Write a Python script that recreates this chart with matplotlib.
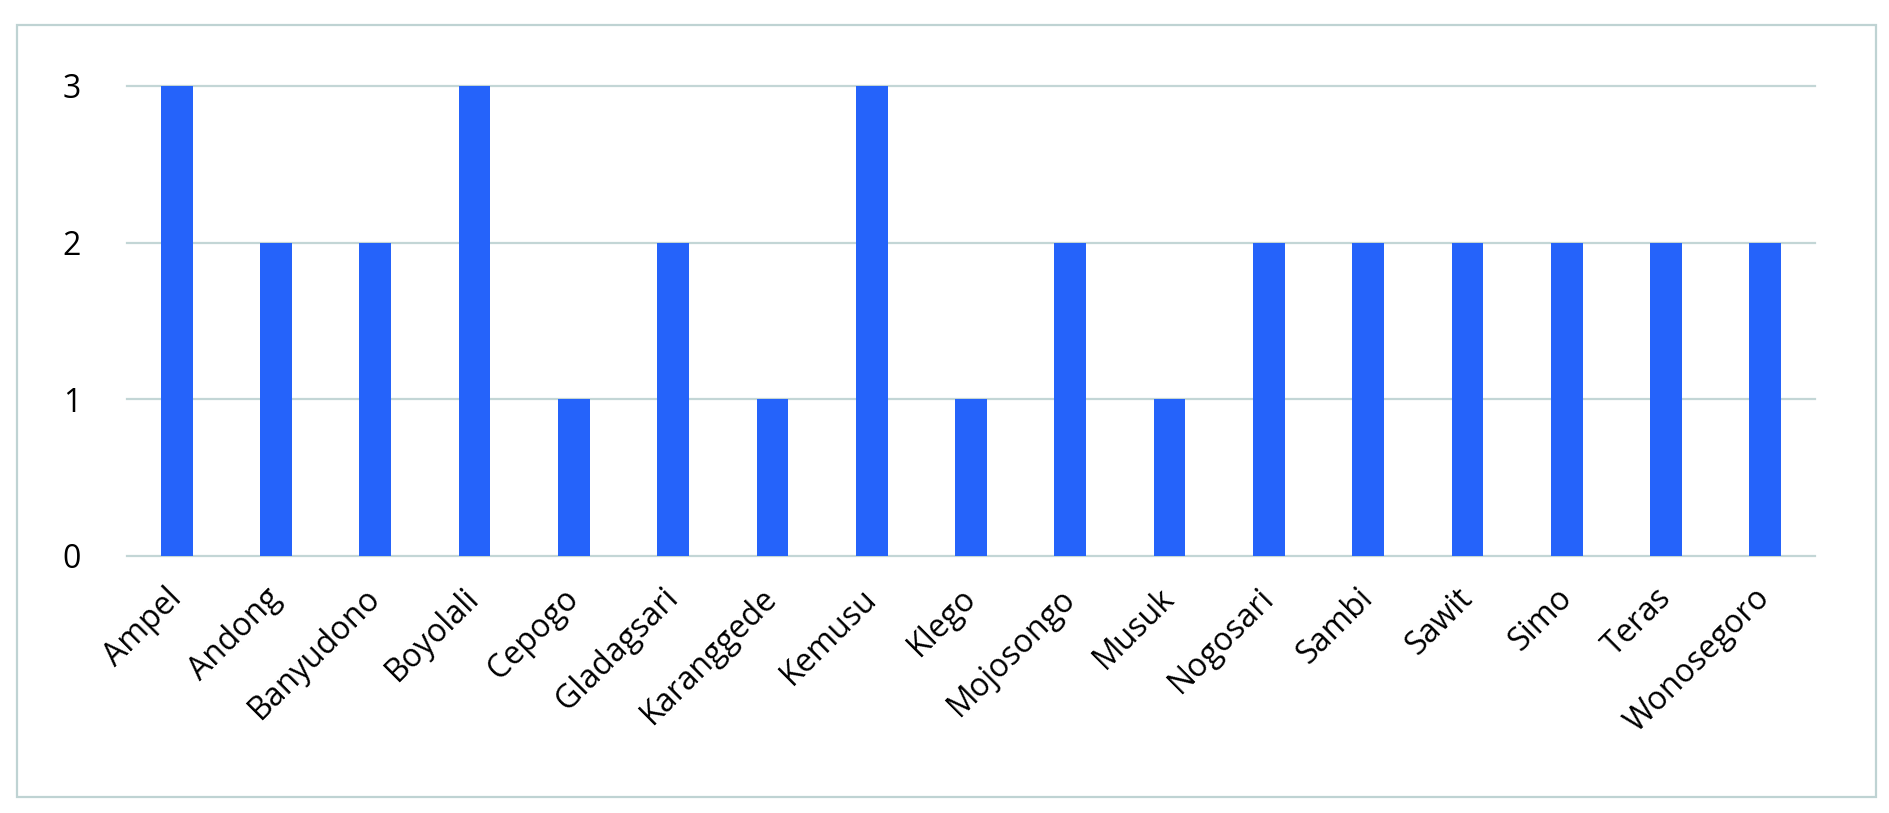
import matplotlib.pyplot as plt
from matplotlib.patches import Rectangle

districts = ["Ampel", "Andong", "Banyudono", "Boyolali", "Cepogo", "Gladagsari",
             "Karanggede", "Kemusu", "Klego", "Mojosongo", "Musuk", "Nogosari",
             "Sambi", "Sawit", "Simo", "Teras", "Wonosegoro"]
counts = [3, 2, 2, 3, 1, 2, 1, 3, 1, 2, 1, 2, 2, 2, 2, 2, 2]
yticks = [0, 1, 2, 3]

plt.rcParams["font.family"] = ["Open Sans", "DejaVu Sans"]

fig = plt.figure(figsize=(18.9, 8.13), dpi=100)
ax = fig.add_axes([127 / 1890, 1 - 556 / 813, (1815 - 127) / 1890, (556 - 86) / 813])

grid_col = "#c3d6d6"
for y in yticks:
    ax.axhline(y, color=grid_col, lw=1.6, zorder=0, clip_on=False)

ax.bar(range(len(districts)), counts, width=0.32, color="#2563fa", zorder=2)

ax.set_xlim(-0.5, len(districts) - 0.5)
ax.set_ylim(0, 3)
ax.set_yticks(yticks)
ax.set_yticklabels([str(v) for v in yticks], fontsize=23)
ax.set_xticks(range(len(districts)))
ax.set_xticklabels(districts, rotation=45, ha="right", va="center",
                   rotation_mode="anchor", fontsize=23)
ax.tick_params(axis="y", length=0, pad=33)
ax.tick_params(axis="x", length=0, pad=27)
for s in ax.spines.values():
    s.set_visible(False)

# outer chart border
fig.patches.append(Rectangle((17 / 1890, 16 / 813), (1876 - 17) / 1890, (797 - 25) / 813,
                             transform=fig.transFigure, fill=False,
                             edgecolor="#bfd3d3", lw=1.6))

fig.savefig("out.png", dpi=100)
